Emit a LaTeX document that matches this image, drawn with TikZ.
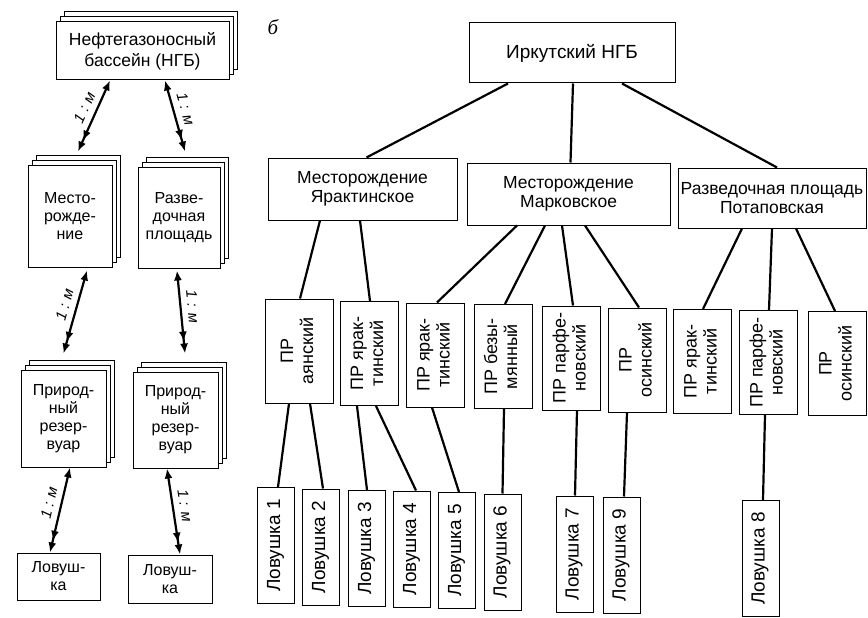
\documentclass[tikz,border=0pt]{standalone}
\usepackage{fontspec}
\setmainfont{Liberation Sans}
\newfontfamily\letterfont{Liberation Serif}
\usetikzlibrary{arrows.meta,shadows}

\tikzset{
  box/.style={draw, line width=1pt, fill=white, inner sep=2pt, align=center,
    font=\fontsize{16}{18}\selectfont},
  stack/.style={box, double copy shadow={shadow xshift=4pt, shadow yshift=5pt}},
  treebox/.style={box, font=\fontsize{17.5}{19}\selectfont},
  prbox/.style={box, minimum width=58pt, minimum height=104pt, font=\fontsize{18}{20}\selectfont},
  lovbox/.style={box, minimum width=37pt, minimum height=116pt, font=\fontsize{19}{21}\selectfont},
  link/.style={line width=2.2pt},
  rel/.style={line width=2.2pt, {Latex[length=10pt,width=8pt]}-{Latex[length=10pt,width=8pt,sep=2pt]Latex[length=10pt,width=8pt]}},
  rellabel/.style={pos=0.45, sloped, above, inner sep=6pt, font=\fontsize{15}{17}\itshape},
}
\newcommand{\vtext}[1]{\rotatebox{90}{\begin{tabular}{@{}c@{}}#1\end{tabular}}}

\begin{document}
\begin{tikzpicture}[x=1pt, y=-1pt]
  \useasboundingbox (0,0) rectangle (868,618);

  % Left part: entities and their relations
  \node[stack, minimum width=173pt, minimum height=58pt, font=\fontsize{17.5}{21}\selectfont] (ngb) at (142.5,51) {Нефтегазоносный\\бассейн (НГБ)};
  \node[stack, minimum width=84pt, minimum height=102pt] (mest) at (70,216) {Место-\\рожде-\\ние};
  \node[stack, minimum width=82pt, minimum height=101pt] (razv) at (179,217.5) {Разве-\\дочная\\площадь};
  \node[stack, minimum width=85pt, minimum height=97pt] (prir1) at (63.5,418.5) {Природ-\\ный\\резер-\\вуар};
  \node[stack, minimum width=85pt, minimum height=96pt] (prir2) at (175.5,420) {Природ-\\ный\\резер-\\вуар};
  \node[box, minimum width=83pt, minimum height=47pt] (lov1) at (58.5,576.5) {Ловуш-\\ка};
  \node[box, minimum width=84pt, minimum height=48pt] (lov2) at (170,579) {Ловуш-\\ка};

  \draw[rel] ([xshift=-32.5pt]ngb.south) -- node[rellabel] {1 : м} ([xshift=8pt,yshift=13pt]mest.north);
  \draw[rel] ([xshift=22.5pt]ngb.south) -- node[rellabel] {1 : м} ([xshift=6pt,yshift=15pt]razv.north);
  \draw[rel] ([xshift=17pt,yshift=-3pt]mest.south) -- node[rellabel] {1 : м} ([yshift=16pt]prir1.north);
  \draw[rel] ([xshift=-2pt,yshift=-2pt]razv.south) -- node[rellabel] {1 : м} ([xshift=9.5pt,yshift=18pt]prir2.north);
  \draw[rel] ([xshift=6.5pt]prir1.south) -- node[rellabel] {1 : м} ([xshift=-8.5pt]lov1.north);
  \draw[rel] ([xshift=-8.5pt]prir2.south) -- node[rellabel] {1 : м} ([xshift=10pt]lov2.north);

  % Right part: the Irkutsk basin
  \node[font=\fontsize{21}{23}\letterfont\itshape] (mark6) at (273,27) {б};
  \node[treebox, minimum width=206pt, minimum height=60pt, font=\fontsize{19}{21}\selectfont] (irk) at (572,53) {Иркутский НГБ};
  \node[treebox, minimum width=189pt, minimum height=62pt] (yar) at (362.5,189) {Месторождение\\Ярактинское};
  \node[treebox, minimum width=203pt, minimum height=62pt] (mark) at (568.5,194) {Месторождение\\Марковское};
  \node[treebox, minimum width=188pt, minimum height=60pt] (pot) at (772,198) {Разведочная площадь\\Потаповская};

  % Natural reservoirs
  \node[prbox, minimum width=68pt] (pr1) at (299,351) {\vtext{ПР\\аянский}};
  \node[prbox] (pr2) at (369,353.5) {\vtext{ПР ярак-\\тинский}};
  \node[prbox] (pr3) at (435.5,355) {\vtext{ПР ярак-\\тинский}};
  \node[prbox] (pr4) at (503,356.5) {\vtext{ПР безы-\\мянный}};
  \node[prbox] (pr5) at (571.5,358) {\vtext{ПР парфе-\\новский}};
  \node[prbox] (pr6) at (637.5,360) {\vtext{ПР\\осинский}};
  \node[prbox] (pr7) at (702.5,361.5) {\vtext{ПР ярак-\\тинский}};
  \node[prbox] (pr8) at (768.5,362.5) {\vtext{ПР парфе-\\новский}};
  \node[prbox] (pr9) at (837.5,363.5) {\vtext{ПР\\осинский}};

  % Traps
  \node[lovbox] (l1) at (276,545.5) {\vtext{Ловушка 1}};
  \node[lovbox] (l2) at (321,547) {\vtext{Ловушка 2}};
  \node[lovbox] (l3) at (367,548.5) {\vtext{Ловушка 3}};
  \node[lovbox] (l4) at (412,549) {\vtext{Ловушка 4}};
  \node[lovbox] (l5) at (457,550.5) {\vtext{Ловушка 5}};
  \node[lovbox] (l6) at (502.5,552) {\vtext{Ловушка 6}};
  \node[lovbox] (l7) at (574.5,554) {\vtext{Ловушка 7}};
  \node[lovbox] (l9) at (621.5,555) {\vtext{Ловушка 9}};
  \node[lovbox] (l8) at (760.5,558.5) {\vtext{Ловушка 8}};

  % Links
  \draw[link] ([xshift=-64pt]irk.south) -- ([xshift=4pt]yar.north);
  \draw[link] ([xshift=1pt]irk.south) -- ([xshift=2pt]mark.north);
  \draw[link] ([xshift=50pt]irk.south) -- ([xshift=5pt]pot.north);

  \draw[link] ([xshift=-42.5pt]yar.south) -- ([xshift=1pt]pr1.north);
  \draw[link] ([xshift=-2.5pt]yar.south) -- ([xshift=1pt]pr2.north);
  \draw[link] ([xshift=-51.5pt]mark.south) -- ([xshift=1.5pt]pr3.north);
  \draw[link] ([xshift=-23.5pt]mark.south) -- ([xshift=2pt]pr4.north);
  \draw[link] ([xshift=-6.5pt]mark.south) -- ([xshift=1.5pt]pr5.north);
  \draw[link] ([xshift=16.5pt]mark.south) -- ([xshift=1.5pt]pr6.north);
  \draw[link] ([xshift=-30pt]pot.south) -- ([xshift=0.5pt]pr7.north);
  \draw[link] (pot.south) -- ([xshift=0.5pt]pr8.north);
  \draw[link] ([xshift=24pt]pot.south) -- ([xshift=-2.5pt]pr9.north);

  \draw[link] ([xshift=-10pt]pr1.south) -- ([xshift=2pt]l1.north);
  \draw[link] ([xshift=11pt]pr1.south) -- ([xshift=2pt]l2.north);
  \draw[link] ([xshift=-12pt]pr2.south) -- (l3.north);
  \draw[link] ([xshift=7pt]pr2.south) -- ([xshift=4pt]l4.north);
  \draw[link] ([xshift=-3.5pt]pr3.south) -- ([xshift=2pt]l5.north);
  \draw[link] ([xshift=1pt]pr4.south) -- (l6.north);
  \draw[link] ([xshift=5.5pt]pr5.south) -- ([xshift=0.5pt]l7.north);
  \draw[link] ([xshift=-10.5pt]pr6.south) -- ([xshift=2.5pt]l9.north);
  \draw[link] ([xshift=-3.5pt]pr8.south) -- ([xshift=2.5pt]l8.north);
\end{tikzpicture}
\end{document}
